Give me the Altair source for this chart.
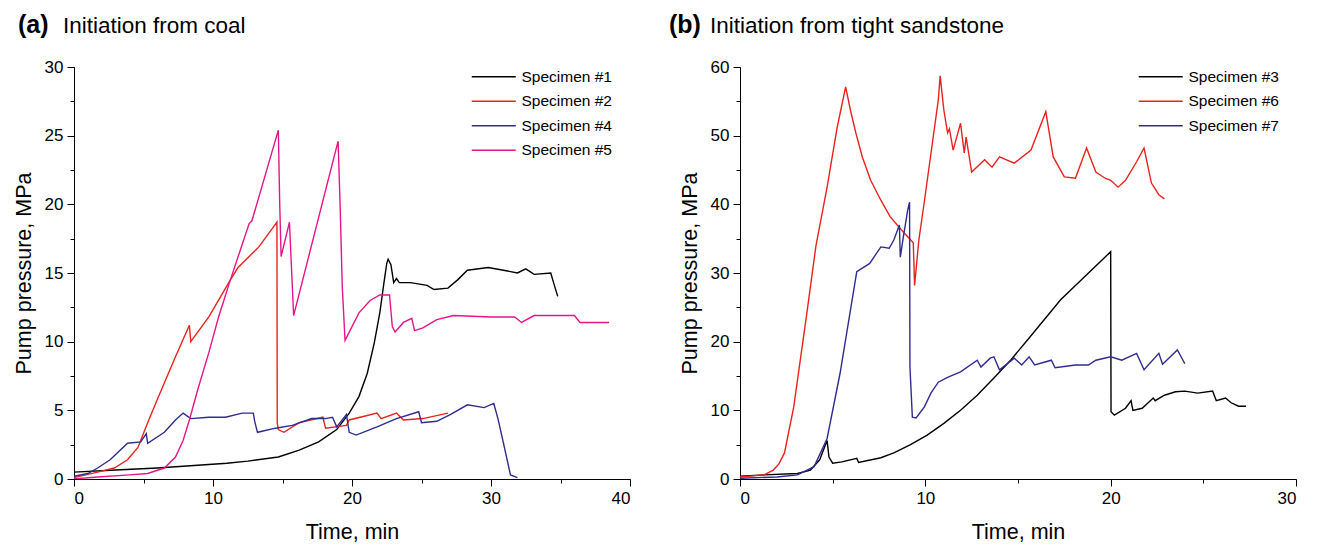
import altair as alt
import pandas as pd

FONT = "Liberation Sans"

# ---------------- Panel (a): initiation from coal ----------------
s1_t = [0, 3, 6, 8.9, 11, 12.5, 14.7, 16.2, 17.6, 18.9, 19.8, 20.5, 21.1, 21.6, 22.0, 22.3, 22.5, 22.6, 22.8, 23.0, 23.2, 23.4, 24.2, 25.4, 25.9, 26.9, 27.6, 28.3, 29.8, 30.9, 31.9, 32.5, 33.1, 34.3, 34.5, 34.8]
s1_p = [0.5, 0.65, 0.8, 1.0, 1.15, 1.3, 1.6, 2.1, 2.7, 3.6, 4.8, 6.0, 7.7, 9.9, 12.1, 14.3, 15.7, 16.0, 15.6, 14.3, 14.6, 14.3, 14.3, 14.1, 13.8, 13.9, 14.5, 15.2, 15.4, 15.2, 15.0, 15.3, 14.9, 15.0, 14.3, 13.3]

s2_t = [0, 1.7, 2.9, 3.85, 4.6, 5.3, 6.0, 7.3, 8.3, 8.4, 8.9, 9.7, 11.25, 11.8, 13.3, 14.6, 14.62, 14.7, 15.1, 16.2, 17.9, 18.1, 19.6, 19.8, 21.8, 22.1, 23.2, 23.7, 25.1, 26.9]
s2_p = [0.1, 0.5, 0.8, 1.4, 2.3, 4.1, 5.8, 8.9, 11.2, 10.0, 10.7, 11.8, 14.5, 15.4, 16.9, 18.7, 4.1, 3.6, 3.4, 4.1, 4.5, 3.7, 3.9, 4.3, 4.8, 4.4, 4.8, 4.3, 4.4, 4.8]

s4_t = [0, 1.0, 1.7, 2.6, 3.85, 4.8, 5.2, 5.3, 6.5, 7.3, 7.85, 8.4, 9.7, 10.9, 12.1, 12.9, 13.0, 13.2, 14.5, 15.7, 17.1, 18.1, 18.6, 18.9, 19.6, 19.8, 20.3, 21.8, 23.2, 24.8, 25.0, 26.1, 27.1, 28.3, 29.5, 30.2, 30.5, 30.9, 31.4, 31.9]
s4_p = [0.2, 0.4, 0.8, 1.4, 2.6, 2.7, 3.3, 2.6, 3.4, 4.3, 4.8, 4.4, 4.5, 4.5, 4.8, 4.8, 4.2, 3.4, 3.7, 3.9, 4.4, 4.4, 4.5, 3.8, 4.7, 3.4, 3.2, 3.8, 4.4, 4.9, 4.1, 4.2, 4.7, 5.4, 5.2, 5.5, 4.4, 2.6, 0.3, 0.1]

s5_t = [0, 1.7, 4, 5.3, 6.5, 7.3, 7.85, 8.3, 8.9, 9.7, 10.4, 11.25, 12.6, 12.8, 14.7, 14.8, 14.9, 15.5, 15.8, 19.0, 19.15, 19.3, 19.5, 20.5, 21.3, 22.0, 22.7, 22.9, 23.1, 23.7, 24.3, 24.5, 25.1, 26.1, 27.3, 30.0, 31.7, 32.2, 33.1, 36.0, 36.4, 38.5]
s5_p = [0.0, 0.15, 0.3, 0.4, 0.8, 1.6, 2.8, 4.3, 6.5, 9.2, 11.8, 14.5, 18.6, 18.8, 25.4, 20.0, 16.2, 18.7, 11.9, 24.6, 19.8, 14.0, 10.1, 12.1, 13.0, 13.4, 13.4, 11.1, 10.7, 11.4, 11.7, 10.8, 11.0, 11.6, 11.9, 11.8, 11.8, 11.4, 11.9, 11.9, 11.4, 11.4]

# ---------------- Panel (b): initiation from tight sandstone ----------------
s3_t = [0, 1.3, 3.1, 3.8, 4.3, 4.7, 4.8, 5.0, 5.5, 6.3, 6.4, 7.6, 8.3, 9.2, 10.1, 11.0, 11.9, 12.8, 13.7, 14.6, 15.5, 17.3, 20.0, 20.02, 20.2, 20.8, 21.1, 21.2, 21.7, 22.3, 22.4, 22.9, 23.5, 24.0, 24.7, 25.5, 25.7, 26.2, 26.5, 26.9, 27.3]
s3_p = [0.4, 0.6, 0.8, 1.3, 2.8, 5.6, 3.2, 2.3, 2.5, 3.0, 2.4, 3.1, 3.8, 5.0, 6.4, 8.1, 10.0, 12.2, 14.7, 17.3, 20.2, 26.1, 33.1, 9.8, 9.3, 10.3, 11.4, 10.0, 10.3, 11.8, 11.4, 12.2, 12.7, 12.8, 12.5, 12.8, 11.4, 11.8, 11.1, 10.6, 10.6]

s6_t = [0, 1.3, 1.8, 2.1, 2.4, 2.9, 3.6, 4.1, 4.7, 5.25, 5.7, 5.96, 6.25, 6.6, 7.05, 7.6, 8.1, 8.7, 9.35, 9.42, 9.65, 9.9, 10.7, 10.8, 11.0, 11.2, 11.3, 11.5, 11.9, 12.1, 12.2, 12.5, 13.2, 13.6, 14.0, 14.8, 15.7, 16.5, 16.9, 17.5, 18.1, 18.7, 19.2, 19.7, 20.0, 20.4, 20.8, 21.4, 21.8, 22.2, 22.6, 22.9]
s6_p = [0.3, 0.6, 1.3, 2.2, 3.8, 10.5, 24.0, 34.0, 42.5, 51.3, 57.1, 53.7, 50.4, 46.9, 43.5, 40.6, 38.2, 36.3, 34.4, 28.2, 34.8, 39.5, 55.2, 58.7, 53.7, 50.4, 51.0, 47.9, 51.8, 47.5, 49.8, 44.7, 46.5, 45.4, 46.9, 46.0, 47.9, 53.5, 46.9, 44.0, 43.8, 48.2, 44.7, 43.8, 43.5, 42.5, 43.5, 46.2, 48.2, 43.1, 41.4, 40.8]

s7_t = [0, 2, 3.1, 4.0, 4.7, 5.4, 6.3, 7.0, 7.6, 8.05, 8.3, 8.6, 8.65, 8.8, 9.05, 9.15, 9.17, 9.3, 9.5, 9.95, 10.3, 10.7, 11.2, 11.9, 12.8, 13.0, 13.5, 13.7, 14.0, 14.8, 15.2, 15.6, 15.9, 16.8, 17.0, 18.1, 18.8, 19.2, 20.0, 20.6, 21.4, 21.8, 22.6, 22.8, 23.6, 23.8, 24.0]
s7_p = [0.1, 0.3, 0.6, 1.8, 5.9, 15.4, 30.2, 31.4, 33.8, 33.6, 34.8, 37.0, 32.3, 35.0, 39.2, 40.3, 16.3, 9.0, 8.9, 10.5, 12.5, 14.1, 14.8, 15.6, 17.3, 16.3, 17.6, 17.8, 15.9, 17.6, 16.6, 17.8, 16.6, 17.3, 16.2, 16.6, 16.6, 17.3, 17.8, 17.3, 18.3, 15.9, 18.3, 16.7, 18.8, 17.8, 16.8]

names_a = ["Specimen #1", "Specimen #2", "Specimen #4", "Specimen #5"]
colors_a = ["#000000", "#e8231f", "#2f2c8e", "#e5158a"]
names_b = ["Specimen #3", "Specimen #6", "Specimen #7"]
colors_b = ["#000000", "#e8231f", "#2f2c8e"]

title_a = ["(a)", "Initiation from coal"]
title_b = ["(b)", "Initiation from tight sandstone"]

x_title = "Time, min"
y_title = "Pump pressure, MPa"


def frame(name, t, p):
    return pd.DataFrame({"t": t, "p": p, "series": name, "i": list(range(len(t)))})


df_a = pd.concat([frame(names_a[0], s1_t, s1_p), frame(names_a[1], s2_t, s2_p),
                  frame(names_a[2], s4_t, s4_p), frame(names_a[3], s5_t, s5_p)], ignore_index=True)
df_b = pd.concat([frame(names_b[0], s3_t, s3_p), frame(names_b[1], s6_t, s6_p),
                  frame(names_b[2], s7_t, s7_p)], ignore_index=True)


def panel(df, names, colors, xmax, xstep, ymax, ystep, yminor, titles, tx1, tx2, width, legend_x):
    xs = alt.Scale(domain=[0, xmax], nice=False, zero=True)
    ys = alt.Scale(domain=[0, ymax], nice=False, zero=True)
    xmaj = [v for v in range(0, xmax + 1, xstep)]
    xmin = [v / 2 for v in range(0, 2 * xmax + 1, xstep)]
    ymaj = [v for v in range(0, ymax + 1, ystep)]
    ymin = [v * yminor for v in range(0, int(ymax / yminor) + 1)]

    minor = alt.Chart(df).mark_point(opacity=0).encode(
        x=alt.X("t:Q", scale=xs, axis=alt.Axis(values=xmin, labels=False, domain=False, tickSize=4,
                                               title=None, orient="bottom", grid=False)),
        y=alt.Y("p:Q", scale=ys, axis=alt.Axis(values=ymin, labels=False, domain=False, tickSize=4,
                                               title=None, orient="left", grid=False)),
    )
    lines = alt.Chart(df).mark_line(strokeWidth=1.4, clip=True).encode(
        x=alt.X("t:Q", scale=xs, axis=alt.Axis(values=xmaj, title=x_title, orient="bottom", tickSize=7,
                                               labelPadding=4, titlePadding=15, grid=False)),
        y=alt.Y("p:Q", scale=ys, axis=alt.Axis(values=ymaj, title=y_title, orient="left", tickSize=7,
                                               labelPadding=4, titlePadding=9, grid=False)),
        color=alt.Color("series:N", scale=alt.Scale(domain=names, range=colors),
                        legend=alt.Legend(title=None, orient="none", legendX=legend_x, legendY=2,
                                          symbolType="M-4,0H4", symbolSize=121, symbolStrokeWidth=1.5,
                                          labelFontSize=15.5, labelFont=FONT, labelColor="black",
                                          labelOffset=20, rowPadding=7.5)),
        order=alt.Order("i:Q"),
    )
    tdf = pd.DataFrame({"a": [titles[0]], "b": [titles[1]]})
    t1 = alt.Chart(tdf).mark_text(font=FONT, fontSize=25, fontWeight="bold", align="left",
                                  baseline="alphabetic", color="black").encode(
        x=alt.value(tx1), y=alt.value(-34), text="a:N")
    t2 = alt.Chart(tdf).mark_text(font=FONT, fontSize=22.5, align="left",
                                  baseline="alphabetic", color="black").encode(
        x=alt.value(tx2), y=alt.value(-34), text="b:N")
    return alt.layer(minor, lines, t1, t2).resolve_axis(x="independent", y="independent").properties(
        width=width, height=412)


left = panel(df_a, names_a, colors_a, 40, 10, 30, 5, 2.5, title_a, -56, -11, 556, 412)
right = panel(df_b, names_b, colors_b, 30, 10, 60, 10, 5, title_b, -71, -30, 556, 413)

chart = alt.hconcat(left, right, spacing=38).resolve_scale(color="independent").configure_view(
    stroke=None
).configure_axis(
    domainColor="black", tickColor="black", labelColor="black", titleColor="black",
    labelFont=FONT, titleFont=FONT, labelFontSize=17, titleFontSize=21.5, titleFontWeight="normal",
    domainWidth=1, tickWidth=1
).properties(padding={"left": 5, "top": 5, "right": 0, "bottom": 0})

chart.save("out.html", embed_options={"renderer": "svg", "actions": False})
